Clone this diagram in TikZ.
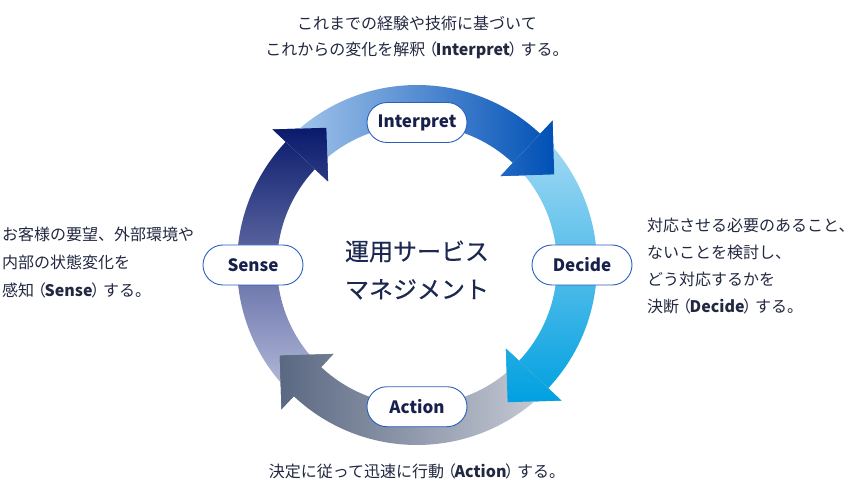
\documentclass[tikz,border=0pt]{standalone}
\usepackage{fontspec}
\setmainfont{Noto Sans CJK JP}
\newfontfamily\centerfont[FakeBold=0.35]{Noto Sans CJK JP}
\definecolor{navyA}{HTML}{0A1A6C}
\definecolor{lavA}{HTML}{B8BEDC}
\definecolor{lightB}{HTML}{A8C8EC}
\definecolor{blueB}{HTML}{0050B6}
\definecolor{lightC}{HTML}{A6DAF4}
\definecolor{cyanC}{HTML}{00A0E0}
\definecolor{lightD}{HTML}{C8CCD6}
\definecolor{slateD}{HTML}{5A6882}
\definecolor{boxblue}{HTML}{2A5FC0}
\definecolor{labeltext}{HTML}{16204A}
\definecolor{desctext}{HTML}{222840}
\definecolor{centertext}{HTML}{1C2850}
\newcommand{\lp}{\hspace{-4pt}（\hspace{-1.5pt}}
\newcommand{\rp}{\hspace{-1.5pt}）\hspace{-4pt}}
\tikzset{
  shA/.style={top color=navyA, bottom color=lavA},
  shB/.style={left color=lightB, right color=blueB},
  shC/.style={top color=lightC, bottom color=cyanC},
  shD/.style={right color=lightD, left color=slateD},
  lbl/.style={draw=boxblue, fill=white, rounded corners=20pt, minimum width=100pt,
    minimum height=40pt, line width=0.9pt, inner sep=0pt, text=labeltext,
    font=\fontsize{17}{20}\selectfont\bfseries},
  desc/.style={text=desctext, inner sep=0pt},
}
\def\pathA{(226.8:180) arc[start angle=226.8,end angle=136.8,radius=180] -- (136.8:198) -- (123.44:164.45) -- (136.8:122) -- (136.8:140) arc[start angle=136.8,end angle=226.8,radius=140] -- cycle}
\def\headA{(136.8:198) -- (123.44:164.45) -- (136.8:122) -- cycle}
\def\pathB{(136.8:180) arc[start angle=136.8,end angle=46.8,radius=180] -- (46.8:198) -- (33.44:164.45) -- (46.8:122) -- (46.8:140) arc[start angle=46.8,end angle=136.8,radius=140] -- cycle}
\def\headB{(46.8:198) -- (33.44:164.45) -- (46.8:122) -- cycle}
\def\pathC{(46.8:180) arc[start angle=46.8,end angle=-43.2,radius=180] -- (-43.2:198) -- (-56.56:164.45) -- (-43.2:122) -- (-43.2:140) arc[start angle=-43.2,end angle=46.8,radius=140] -- cycle}
\def\headC{(-43.2:198) -- (-56.56:164.45) -- (-43.2:122) -- cycle}
\def\pathD{(-43.2:180) arc[start angle=-43.2,end angle=-133.2,radius=180] -- (-133.2:198) -- (-146.56:164.45) -- (-133.2:122) -- (-133.2:140) arc[start angle=-133.2,end angle=-43.2,radius=140] -- cycle}
\def\headD{(-133.2:198) -- (-146.56:164.45) -- (-133.2:122) -- cycle}
\begin{document}
\begin{tikzpicture}[x=1pt,y=1pt]
\useasboundingbox (-417,-225) rectangle (438,265);
% bands
\path[shA] \pathA;
\path[shB] \pathB;
\path[shC] \pathC;
\path[shD] \pathD;
% heads on top
\begin{scope}\clip \headA; \path[shA] \pathA; \end{scope}
\begin{scope}\clip \headB; \path[shB] \pathB; \end{scope}
\begin{scope}\clip \headC; \path[shC] \pathC; \end{scope}
\begin{scope}\clip \headD; \path[shD] \pathD; \end{scope}
% labels
\node[lbl] (interpret) at (0,142.5) {Interpret};
\node[lbl] (decide) at (165,0) {Decide};
\node[lbl] (action) at (0,-141.7) {Action};
\node[lbl] (sense) at (-164,0) {Sense};
% center
\node[text=centertext, align=center, inner sep=0pt, font=\centerfont\fontsize{24}{38}\selectfont] (title) at (0,-5) {運用サービス\\マネジメント};
% descriptions
\node[desc, align=center, font=\fontsize{16}{26}\selectfont] (topdesc) at (0,228) {これまでの経験や技術に基づいて\\これからの変化を解釈\lp\textbf{Interpret}\rp する。};
\node[desc, align=left, anchor=west, font=\fontsize{16}{28}\selectfont] (leftdesc) at (-415,2) {お客様の要望、外部環境や\\内部の状態変化を\\感知\lp\textbf{Sense}\rp する。};
\node[desc, align=left, anchor=west, font=\fontsize{16}{27.3}\selectfont] (rightdesc) at (230,-1) {対応させる必要のあること、\\ないことを検討し、\\どう対応するかを\\決断\lp\textbf{Decide}\rp する。};
\node[desc, align=center, font=\fontsize{16}{26}\selectfont] (bottomdesc) at (0,-206) {決定に従って迅速に行動\lp\textbf{Action}\rp する。};
\end{tikzpicture}
\end{document}
